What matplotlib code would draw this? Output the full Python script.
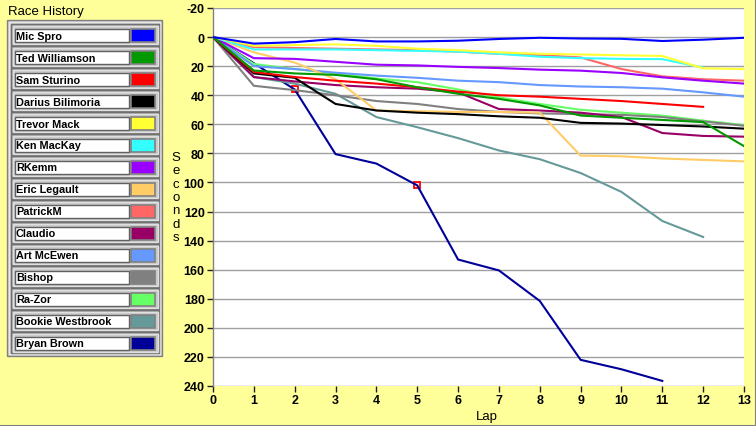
import matplotlib
matplotlib.use("Agg")
import matplotlib.pyplot as plt
from matplotlib.patches import Rectangle

plt.rcParams["axes.unicode_minus"] = False

# ---------------- data ----------------
drivers = ["Mic Spro", "Ted Williamson", "Sam Sturino", "Darius Bilimoria",
           "Trevor Mack", "Ken MacKay", "RKemm", "Eric Legault", "PatrickM",
           "Claudio", "Art McEwen", "Bishop", "Ra-Zor", "Bookie Westbrook",
           "Bryan Brown"]
colors = ["#0000FF", "#009900", "#FF0000", "#000000", "#FFFF33", "#33FFFF",
          "#9900FF", "#FFCC66", "#FF6666", "#990066", "#6699FF", "#808080",
          "#66FF66", "#669999", "#000099"]

mic_spro = [0, 4.5, 3.5, 1.3, 3, 3, 2.5, 1.3, 0.5, 1, 1.2, 2.7, 1.8, 0.5]
ted_williamson = [0, 23, 25, 26, 29, 34.5, 39, 42.5, 47, 54, 55.5, 57, 58.5, 75]
sam_sturino = [0, 24, 27.5, 30, 32, 34.5, 37.5, 40, 41, 42.5, 44, 46, 48]
darius_bilimoria = [0, 25, 28, 46, 50.5, 52, 53, 54.5, 55.5, 59, 59.5, 60.5, 61.5, 63]
trevor_mack = [0, 6, 5.5, 5, 6, 8, 9, 10.5, 11.5, 12, 12.5, 13, 21.5, 22]
ken_mackay = [0, 8.5, 8.5, 8.5, 9, 9.5, 10, 11.5, 13.5, 14.5, 15, 15.2, 21]
rkemm = [0, 14.5, 15, 17, 19, 19.5, 20.5, 21.3, 22.4, 23.1, 24.7, 27.7, 30, 32]
eric_legault = [0, 10.5, 17.5, 29, 50.5, 51, 51.5, 51.5, 52, 81.5, 82, 83.5, 84.5, 85.5]
patrickm = [0, 7, 7.5, 8, 8.5, 9, 10, 11.5, 12.5, 14, 22, 27, 29, 30]
claudio = [0, 27.5, 30.5, 33, 34.5, 35.5, 38, 49.5, 50.5, 52, 55, 66, 68, 68.5]
art_mcewen = [0, 20, 22, 24.5, 26.5, 28, 30, 31, 33, 34, 34.5, 35.5, 38, 41]
bishop = [0, 33.5, 36.5, 40, 44, 46, 49.5, 51.5, 52.5, 53, 53.5, 55, 58, 61]
ra_zor = [0, 18.5, 22, 25, 28.5, 31, 36, 41.5, 46, 50, 52, 54, 57.5, 60.5]
bookie_westbrook = [0, 27.5, 32, 39, 55, 62, 69.5, 78, 84, 93.5, 106.5, 126.5, 137.5]
bryan_brown = [0, 18, 36, 80.5, 87, 102, 153, 160.5, 181.5, 222, 228.5, 236.5]

series = [mic_spro, ted_williamson, sam_sturino, darius_bilimoria, trevor_mack,
          ken_mackay, rkemm, eric_legault, patrickm, claudio, art_mcewen,
          bishop, ra_zor, bookie_westbrook, bryan_brown]

marker_laps = [2, 5]
marker_secs = [36, 102]

x_ticks = list(range(0, 14))
y_ticks = list(range(-20, 241, 20))

# ---------------- figure ----------------
W, H = 756, 427
BG = "#FFFF99"
fig = plt.figure(figsize=(W / 100, H / 100), dpi=100, facecolor=BG)

FONT = "Liberation Sans"

ax = fig.add_axes([213 / W, 1 - 387 / H, (744 - 213) / W, (387 - 9) / H])
ax.set_facecolor("white")
for i, (vals, c) in enumerate(zip(series, colors)):
    ax.plot(range(len(vals)), vals, color=c, lw=1.5, zorder=30 - i,
            solid_joinstyle="miter")
ax.plot(marker_laps, marker_secs, linestyle="none", marker="s", ms=5,
        mfc="none", mec="#FF0000", mew=1.3, zorder=14)

ax.set_xlim(0, 13)
ax.set_ylim(240, -20)
ax.set_xticks(x_ticks)
ax.set_yticks(y_ticks)
ax.yaxis.grid(True, color="#A0A0A0", lw=1)
ax.xaxis.grid(False)
ax.set_axisbelow(True)
for s in ["top", "right", "bottom"]:
    ax.spines[s].set_visible(False)
ax.spines["left"].set_color("#808080")
ax.spines["left"].set_linewidth(1)
ax.tick_params(axis="both", direction="out", length=4, width=1, color="#202020",
               pad=2)
for lab in ax.get_xticklabels() + ax.get_yticklabels():
    lab.set_fontfamily(FONT)
    lab.set_fontweight("bold")
    lab.set_fontsize(9)

# Axis labels
fig.text(487 / W, 1 - 417 / H, "Lap", ha="center", va="center",
         fontfamily=FONT, fontsize=9.5)
fig.text(176 / W, 1 - 198 / H, "S\ne\nc\no\nn\nd\ns", ha="center", va="center",
         fontfamily=FONT, fontsize=9.5, linespacing=1.16)
fig.text(8 / W, 1 - 12 / H, "Race History", ha="left", va="center",
         fontfamily=FONT, fontsize=9.5)

# ---------------- legend panel (pixel overlay) ----------------
ov = fig.add_axes([0, 0, 1, 1], facecolor="none")
ov.set_xlim(0, W)
ov.set_ylim(H, 0)
ov.axis("off")

# window border lines (right and bottom)
ov.plot([0, W - 0.5], [H - 0.5, H - 0.5], color="#808080", lw=1.5)
ov.plot([W - 0.5, W - 0.5], [0, H], color="#808080", lw=1.5)

ov.add_patch(Rectangle((7, 21), 155, 336, facecolor="#C8C8C8",
                       edgecolor="#808080", lw=1))
ov.add_patch(Rectangle((9, 23), 151, 332, facecolor="none",
                       edgecolor="#E8E8E8", lw=1))
for i, (name, c) in enumerate(zip(drivers, colors)):
    yc = 36 + 22 * i
    ov.add_patch(Rectangle((11, yc - 11), 148, 21, facecolor="#A8A8A8",
                           edgecolor="#707070", lw=1))
    ov.add_patch(Rectangle((12.5, yc - 9.5), 145, 18, facecolor="#C8C8C8",
                           edgecolor="#E0E0E0", lw=1))
    ov.add_patch(Rectangle((15, yc - 6.5), 114, 13, facecolor="white",
                           edgecolor="#606060", lw=1))
    ov.add_patch(Rectangle((131, yc - 6.5), 24, 13, facecolor=c,
                           edgecolor="#808080", lw=1.2))
    ov.text(16, yc + 0.5, name, ha="left", va="center", fontfamily=FONT,
            fontweight="bold", fontsize=7.8, color="black")

fig.savefig("out.png", dpi=100, facecolor=BG)
